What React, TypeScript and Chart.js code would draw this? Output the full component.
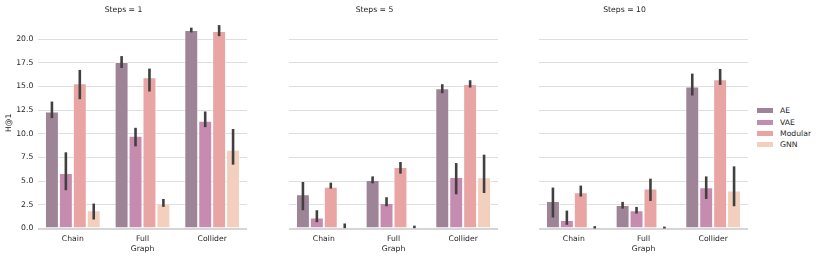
import React, { useEffect, useRef } from "react";
import { Chart, registerables } from "chart.js";
Chart.register(...registerables);

const categories = ["Chain", "Full", "Collider"];
const models = ["AE", "VAE", "Modular", "GNN"];
const colors = ["#9e8497", "#c68caf", "#e9a4a4", "#f3cfbd"];
const panelTitles = ["Steps = 1", "Steps = 5", "Steps = 10"];

// Steps = 1
const ae1 = [12.35, 17.58, 20.95];
const ae1Err = [[11.65, 13.4], [16.95, 18.2], [20.7, 21.2]];
const vae1 = [5.86, 9.79, 11.37];
const vae1Err = [[4.04, 8.04], [8.67, 10.63], [10.7, 12.35]];
const mod1 = [15.33, 15.96, 20.84];
const mod1Err = [[13.65, 16.74], [14.46, 16.88], [20.3, 21.47]];
const gnn1 = [1.93, 2.63, 8.32];
const gnn1Err = [[0.95, 2.63], [2.28, 3.12], [6.74, 10.5]];

// Steps = 5
const ae5 = [3.61, 5.12, 14.8];
const ae5Err = [[1.93, 4.91], [4.77, 5.5], [14.28, 15.23]];
const vae5 = [1.16, 2.7, 5.44];
const vae5Err = [[0.67, 1.93], [2.35, 3.3], [3.61, 6.91]];
const mod5 = [4.42, 6.49, 15.26];
const mod5Err = [[4.21, 4.84], [5.79, 7.02], [14.88, 15.65]];
const gnn5 = [0.18, 0.14, 5.4];
const gnn5Err = [[0.04, 0.53], [0.04, 0.3], [3.75, 7.79]];

// Steps = 10
const ae10 = [2.91, 2.49, 14.98];
const ae10Err = [[1.16, 4.32], [2.1, 2.81], [14.04, 16.35]];
const vae10 = [0.91, 1.93, 4.35];
const vae10Err = [[0.39, 1.89], [1.58, 2.28], [3.12, 5.5]];
const mod10 = [3.82, 4.21, 15.75];
const mod10Err = [[3.37, 4.53], [2.91, 5.26], [15.16, 16.84]];
const gnn10 = [0.07, 0.07, 4.0];
const gnn10Err = [[0, 0.25], [0, 0.2], [2.35, 6.56]];

const panels = [
  { title: panelTitles[0], values: [ae1, vae1, mod1, gnn1], errs: [ae1Err, vae1Err, mod1Err, gnn1Err] },
  { title: panelTitles[1], values: [ae5, vae5, mod5, gnn5], errs: [ae5Err, vae5Err, mod5Err, gnn5Err] },
  { title: panelTitles[2], values: [ae10, vae10, mod10, gnn10], errs: [ae10Err, vae10Err, mod10Err, gnn10Err] },
];

const FONT = "'DejaVu Sans', sans-serif";
const FS = 7.7;
const TEXT = "#262626";
const Y_MAX = 22.3;

function Panel({ idx, left }: { idx: number; left: number }) {
  const ref = useRef<HTMLCanvasElement>(null);
  useEffect(() => {
    const p = panels[idx];
    const showY = idx === 0;
    const errPlugin = {
      id: "errbars",
      afterDatasetsDraw(chart: any) {
        const ctx = chart.ctx;
        const ys = chart.scales.y;
        ctx.save();
        ctx.strokeStyle = "#404040";
        ctx.lineWidth = 2.6;
        ctx.lineCap = "butt";
        p.errs.forEach((err: number[][], di: number) => {
          const meta = chart.getDatasetMeta(di);
          meta.data.forEach((el: any, j: number) => {
            const lo = ys.getPixelForValue(err[j][0]);
            const hi = ys.getPixelForValue(err[j][1]);
            ctx.beginPath();
            ctx.moveTo(el.x, lo);
            ctx.lineTo(el.x, hi);
            ctx.stroke();
          });
        });
        ctx.restore();
      },
    };
    const chart = new Chart(ref.current as HTMLCanvasElement, {
      type: "bar",
      data: {
        labels: categories,
        datasets: models.map((m, i) => ({
          label: m,
          data: p.values[i],
          backgroundColor: colors[i],
          borderColor: "rgba(255,255,255,0.55)",
          borderWidth: 1,
          categoryPercentage: 0.8,
          barPercentage: 1.0,
        })),
      },
      options: {
        responsive: false,
        animation: false,
        devicePixelRatio: 1,
        layout: { padding: { left: 0, right: 2, top: 0, bottom: 0 } },
        plugins: {
          legend: { display: false },
          tooltip: { enabled: false },
          title: {
            display: true,
            text: p.title,
            color: TEXT,
            font: { family: FONT, size: FS, weight: "normal" },
            padding: { top: 5, bottom: 3 },
          },
        },
        scales: {
          x: {
            grid: { display: false, drawTicks: false },
            border: { display: false },
            ticks: { color: TEXT, font: { family: FONT, size: FS }, padding: 6 },
            title: {
              display: true,
              text: "Graph",
              color: TEXT,
              font: { family: FONT, size: FS },
              padding: { top: 0, bottom: 4 },
            },
            afterFit: (s: any) => {
              s.height = 29.5;
            },
          },
          y: {
            min: 0,
            max: Y_MAX,
            grid: {
              color: (c: any) => (c.tick && c.tick.value === 0 ? "#d6d6d6" : "#dedede"),
              lineWidth: (c: any) => (c.tick && c.tick.value === 0 ? 2 : 1),
              drawTicks: false,
            },
            border: { display: false },
            ticks: {
              display: showY,
              stepSize: 2.5,
              includeBounds: false,
              color: TEXT,
              font: { family: FONT, size: FS },
              padding: 4.7,
              callback: (v: any) => Number(v).toFixed(1),
            },
            title: {
              display: showY,
              text: "H@1",
              color: TEXT,
              font: { family: FONT, size: FS },
              padding: 4,
            },
            afterFit: (s: any) => {
              s.width = 38;
            },
          },
        },
      },
      plugins: [errPlugin],
    } as any);
    return () => chart.destroy();
  }, [idx]);
  return (
    <canvas
      ref={ref}
      width={249}
      height={258}
      style={{ position: "absolute", left, top: 0, width: 249, height: 258 }}
    />
  );
}

export default function App() {
  return (
    <div style={{ position: "fixed", left: 0, top: 0, width: 818, height: 258, background: "#fff" }}>
      <Panel idx={0} left={0} />
      <Panel idx={1} left={251} />
      <Panel idx={2} left={501} />
      <div style={{ position: "absolute", left: 757, top: 105.4, fontFamily: FONT, fontSize: FS, color: TEXT }}>
        {models.map((m, i) => (
          <div key={m} style={{ display: "flex", alignItems: "center", height: 11.2 }}>
            <span style={{ display: "inline-block", width: 16, height: 5, background: colors[i], marginRight: 7 }} />
            <span>{m}</span>
          </div>
        ))}
      </div>
    </div>
  );
}
